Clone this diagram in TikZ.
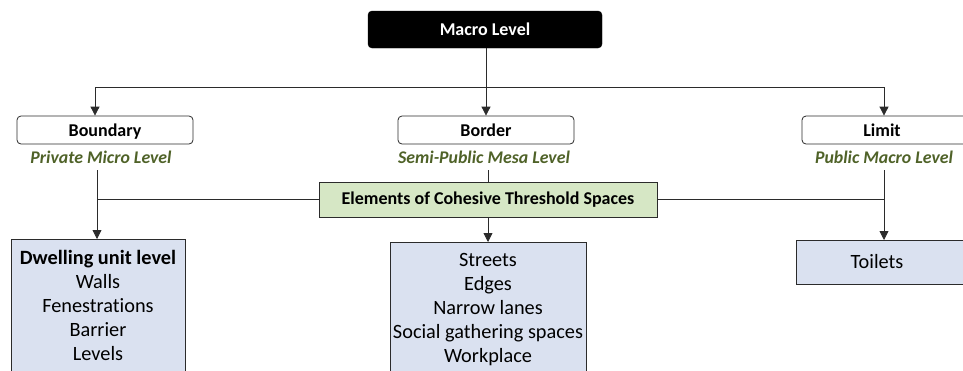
\documentclass[tikz,border=0pt]{standalone}
\usepackage{fontspec}
\setmainfont{Carlito}[Ligatures=NoCommon]
\usetikzlibrary{arrows.meta}
\definecolor{subgreen}{HTML}{4F6228}
\definecolor{elemgreen}{HTML}{D6E7C5}
\definecolor{boxblue}{HTML}{DAE1F0}
\definecolor{edge}{HTML}{2B2B2B}
\tikzset{
  topbox/.style={draw=black, fill=black, rounded corners=4pt, text=white, font=\bfseries\fontsize{18}{21}\selectfont, minimum width=234pt, minimum height=37pt, inner sep=0pt},
  catbox/.style={draw=edge, line width=0.8pt, fill=white, rounded corners=4pt, font=\bfseries\fontsize{18}{21}\selectfont, minimum width=176pt, minimum height=28pt, inner sep=0pt, text height=14pt, text depth=2pt},
  sublabel/.style={text=subgreen, font=\bfseries\itshape\fontsize{17.8}{21}\selectfont, inner sep=0pt},
  elembox/.style={draw=edge, line width=0.8pt, fill=elemgreen, font=\bfseries\fontsize{18}{21}\selectfont, minimum width=338pt, minimum height=35pt, inner sep=0pt},
  listbox/.style={draw=edge, line width=0.8pt, fill=boxblue, inner sep=0pt},
  listtext/.style={font=\fontsize{20.3}{24}\selectfont, align=center, inner sep=0pt, anchor=north},
  conn/.style={draw=edge, line width=0.8pt},
  arr/.style={conn, -{Triangle[length=9pt,width=9pt]}}
}
\begin{document}
\begin{tikzpicture}[x=1pt,y=-1pt]
\useasboundingbox (0,0) rectangle (963,370);
\begin{scope}
\clip (0,0) rectangle (963,370);
% top
\node[topbox] (macro) at (485,29.5) {Macro Level};
% category boxes
\node[catbox] (boundary) at (105,130) {Boundary};
\node[catbox] (border) at (486,130) {Border};
\node[catbox, minimum width=176pt] (limit) at (890,130) {};
\node[font=\bfseries\fontsize{18}{21}\selectfont, text height=14pt, text depth=2pt, inner sep=0pt] (limittext) at (882,130) {Limit};
% sublabels
\node[sublabel] (privlab) at (101,157) {Private Micro Level};
\node[sublabel] (semilab) at (484,157) {Semi-Public Mesa Level};
\node[sublabel] (publab) at (884,157) {Public Macro Level};
% elements
\node[elembox] (elem) at (488,199.5) {Elements of Cohesive Threshold Spaces};
% list boxes
\path[listbox] (11,239) rectangle (185,380);
\coordinate (dwtop) at (97,239);
\node[listtext] (dwell) at (98,250) {\textbf{Dwelling unit level}\\Walls\\Fenestrations\\Barrier\\Levels};
\path[listbox] (390,242) rectangle (586,380);
\coordinate (sttop) at (488,242);
\node[listtext] (streets) at (488,253) {Streets\\Edges\\Narrow lanes\\Social gathering spaces\\Workplace};
\path[listbox] (796,240) rectangle (975,284);
\coordinate (toitop) at (884,240);
\node[font=\fontsize{20.3}{24}\selectfont] (toilets) at (877,262) {Toilets};
% connectors
\coordinate (hl) at (95,87);
\coordinate (hr) at (884,87);
\draw[conn] (macro.south -| 486,0) -- (486,87);
\draw[arr] (486,87) -- (border.north);
\draw[arr] (486,87) -- (hl) -- (boundary.north -| hl);
\draw[arr] (486,87) -- (hr) -- (limit.north -| hr);
\coordinate (bl) at (97,170);
\coordinate (br) at (884,170);
\draw[arr] (bl) -- (dwtop);
\draw[conn] (elem.west) -- (elem.west -| bl);
\draw[conn] (488,170) -- (elem.north);
\draw[arr] (elem.south) -- (sttop);
\draw[arr] (br) -- (toitop);
\draw[conn] (elem.east) -- (elem.east -| br);
\end{scope}
\end{tikzpicture}
\end{document}
